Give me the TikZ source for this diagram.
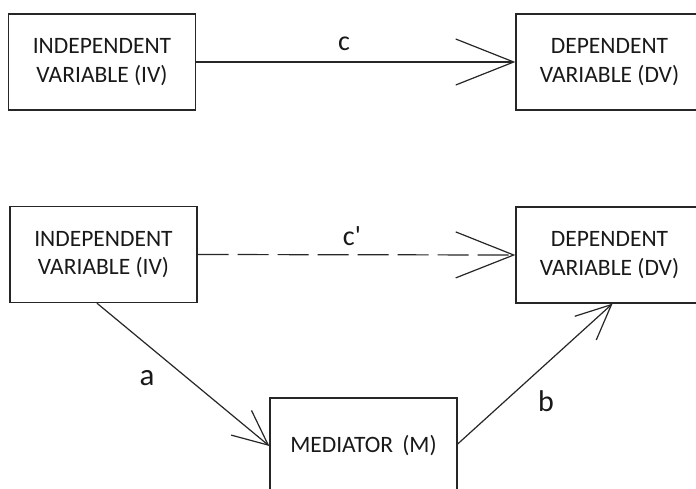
\documentclass[tikz,border=0pt]{standalone}
\usepackage{fontspec}
\setmainfont{Carlito}
\usetikzlibrary{arrows.meta,calc}
\begin{document}
\begin{tikzpicture}[x=1pt,y=-1pt,
  box/.style={draw=black!85, line width=1.3pt, minimum width=187pt, minimum height=96pt,
    inner sep=0pt, align=center, text=black!90, font=\fontsize{23.5}{28.5}\selectfont},
  lbl/.style={anchor=base, text=black!90, inner sep=0pt},
  conn/.style={draw=black!85, line width=1.2pt},
  bigtip/.style={-{Straight Barb[length=58pt,width=46pt,line width=1.2pt]}},
  smalltip/.style={-{Straight Barb[length=35pt,width=32pt,line width=1.2pt]}}
]
\useasboundingbox (0,0) rectangle (696,488);
\fill[white] (0,0) rectangle (696,488);
% top row
\node[box] (iv1) at (102,62) {INDEPENDENT\\VARIABLE (IV)};
\node[box] (dv1) at (609.5,62) {DEPENDENT\\VARIABLE (DV)};
\draw[conn,bigtip] (iv1.east) -- (dv1.west);
\node[lbl, font=\fontsize{28}{30}\selectfont] (lc) at (344,50) {c};
% bottom
\node[box] (iv2) at (103.5,254.5) {INDEPENDENT\\VARIABLE (IV)};
\node[box] (dv2) at (609.5,255) {DEPENDENT\\VARIABLE (DV)};
\node[box] (med) at (363.5,446) {MEDIATOR\, (M)};
\draw[conn,bigtip,dash pattern=on 31pt off 9pt] (iv2.east) -- (dv2.west);
\node[lbl, font=\fontsize{28}{30}\selectfont] (lcp) at (352,245) {c\textquotesingle};
\draw[conn,smalltip] ($(iv2.south west)!0.465!(iv2.south east)$) -- (med.west);
\node[lbl, font=\fontsize{31}{33}\selectfont] (la) at (147,385) {a};
\draw[conn,smalltip] ($(med.east)+(0,-2)$) -- ($(dv2.south west)!0.516!(dv2.south east)$);
\node[lbl, font=\fontsize{30}{32}\selectfont] (lb) at (546,411) {b};
\end{tikzpicture}
\end{document}
